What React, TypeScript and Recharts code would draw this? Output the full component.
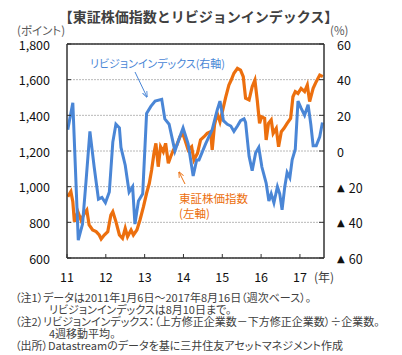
import React from 'react';
import { LineChart, Line, XAxis, YAxis, CartesianGrid, ReferenceLine } from 'recharts';

const yearTicks = [2011, 2012, 2013, 2014, 2015, 2016, 2017];
const yearLabels = ['11', '12', '13', '14', '15', '16', '17'];
const leftTicks = [600, 800, 1000, 1200, 1400, 1600, 1800];
const rightTicks = [-60, -40, -20, 0, 20, 40, 60];

const revisionYears = [
  2011.02, 2011.15, 2011.29, 2011.40, 2011.49, 2011.59, 2011.70, 2011.81, 2011.90, 2011.99,
  2012.09, 2012.18, 2012.26, 2012.35, 2012.39, 2012.50, 2012.60, 2012.69, 2012.75, 2012.84,
  2012.95, 2013.05, 2013.16, 2013.27, 2013.44, 2013.52, 2013.63, 2013.74, 2013.78, 2013.89,
  2013.99, 2014.12, 2014.25, 2014.34, 2014.40, 2014.57, 2014.74, 2014.87, 2014.94, 2015.03,
  2015.13, 2015.22, 2015.30, 2015.39, 2015.47, 2015.56, 2015.60, 2015.69, 2015.77, 2015.86,
  2015.94, 2016.02, 2016.13, 2016.20, 2016.26, 2016.33, 2016.42, 2016.48, 2016.54, 2016.61,
  2016.67, 2016.74, 2016.80, 2016.88, 2016.95, 2017.03, 2017.12, 2017.21, 2017.28, 2017.34,
  2017.42, 2017.51, 2017.58,
];
const revisionValues = [
  12, 27, -50, -41, -17, 11, -9, -27, -26, -29,
  -23, 5, 15, 13, 2, -8, -23, -20, -41, -28,
  -24, 21, 25, 28, 29, 18, 15, 4, 0, 7,
  13, 4, -14, -5, -5, 4, 12, 23, 28, 17,
  15, 14, 11, 14, 17, 18, 16, -3, -11, -1,
  2, -9, -18, -28, -24, -29, -20, -24, -33, -20,
  -12, -15, -5, 1, 28, 24, 20, 26, 15, 3,
  3, 8, 16,
];

const topixYears = [
  2011.02, 2011.10, 2011.15, 2011.19, 2011.28, 2011.36, 2011.45, 2011.51, 2011.57, 2011.66,
  2011.75, 2011.83, 2011.88, 2011.96, 2012.05, 2012.13, 2012.18, 2012.26, 2012.35, 2012.43,
  2012.50, 2012.56, 2012.65, 2012.71, 2012.80, 2012.88, 2012.97, 2013.05, 2013.12, 2013.18,
  2013.24, 2013.29, 2013.35, 2013.41, 2013.48, 2013.54, 2013.61, 2013.67, 2013.74, 2013.83,
  2013.91, 2013.98, 2014.04, 2014.12, 2014.21, 2014.27, 2014.36, 2014.44, 2014.53, 2014.61,
  2014.70, 2014.74, 2014.80, 2014.87, 2014.94, 2015.00, 2015.09, 2015.17, 2015.23, 2015.30,
  2015.39, 2015.47, 2015.54, 2015.60, 2015.69, 2015.77, 2015.84, 2015.90, 2015.96, 2016.01,
  2016.09, 2016.13, 2016.19, 2016.26, 2016.31, 2016.39, 2016.45, 2016.52, 2016.59, 2016.67,
  2016.76, 2016.82, 2016.88, 2016.95, 2017.03, 2017.12, 2017.19, 2017.25, 2017.34, 2017.42,
  2017.51, 2017.59,
];
const topixValues = [
  944, 972, 916, 804, 860, 813, 851, 869, 785, 757,
  748, 729, 707, 729, 748, 841, 860, 804, 729, 710,
  767, 720, 757, 729, 757, 813, 888, 963, 1019, 1094,
  1187, 1243, 1112, 1224, 1196, 1243, 1131, 1168, 1206, 1234,
  1280, 1299, 1262, 1206, 1224, 1150, 1187, 1262, 1280, 1299,
  1308, 1206, 1346, 1411, 1364, 1420, 1504, 1570, 1598, 1636,
  1664, 1654, 1617, 1496, 1486, 1561, 1598, 1486, 1355, 1392,
  1383, 1262, 1355, 1374, 1299, 1327, 1224, 1308, 1327, 1355,
  1383, 1504, 1533, 1523, 1551, 1533, 1570, 1477, 1551, 1589,
  1626, 1617,
];

const notes = [
  { x: 15, text: '（注1）データは2011年1月6日～2017年8月16日（週次ベース）。' },
  { x: 49, text: 'リビジョンインデックスは8月10日まで。' },
  { x: 15, text: '（注2）リビジョンインデックス：（上方修正企業数－下方修正企業数）÷企業数。' },
  { x: 49, text: '4週移動平均。' },
  { x: 15, text: '（出所）Datastreamのデータを基に三井住友アセットマネジメント作成' },
];

const revisionData = revisionYears.map((t, i) => ({ t, v: revisionValues[i] }));
const topixData = topixYears.map((t, i) => ({ t, v: topixValues[i] }));

const BLUE = '#4a86d6';
const ORANGE = '#ec6f0e';
const FRAME = '#333333';
const FONT = '"Noto Sans CJK JP", "Noto Sans", sans-serif';
const palt = { fontFeatureSettings: '"palt"' } as React.CSSProperties;

const XTick = (props: any) => {
  const { x, y, payload } = props;
  const idx = yearTicks.indexOf(payload.value);
  return (
    <g>
      <line x1={x} x2={x} y1={y} y2={y - 4} stroke={FRAME} strokeWidth={1} />
      <text x={x} y={y + 18} textAnchor="middle" dominantBaseline="central" fontSize={12.5} fill="#111" fontFamily={FONT}>
        {yearLabels[idx]}
      </text>
    </g>
  );
};

const LTick = (props: any) => {
  const { x, y, payload } = props;
  return (
    <g>
      <line x1={x + 17} x2={x + 21} y1={y} y2={y} stroke={FRAME} strokeWidth={1} />
      <text x={x} y={y} textAnchor="end" dominantBaseline="central" fontSize={12.5} fill="#111" fontFamily={FONT}>
        {payload.value.toLocaleString('en-US')}
      </text>
    </g>
  );
};

const RTick = (props: any) => {
  const { x, y, payload } = props;
  const v = payload.value as number;
  return (
    <g>
      <line x1={x - 13} x2={x - 18} y1={y} y2={y} stroke={FRAME} strokeWidth={1} />
      <text x={x} y={y} textAnchor="start" dominantBaseline="central" fontSize={12.5} fill="#111" fontFamily={FONT}>
        {v < 0 ? (
          <>
            <tspan fontSize={10} fontFamily='"DejaVu Sans", sans-serif'>▲</tspan>
            <tspan dx={4}>{String(-v)}</tspan>
          </>
        ) : (
          String(v)
        )}
      </text>
    </g>
  );
};

export default function App() {
  return (
    <div style={{ position: 'absolute', left: 0, top: 0, width: 402, height: 355, background: '#fff', fontFamily: FONT }}>
      <LineChart width={402} height={355} margin={{ top: 44, right: 0, left: 0, bottom: 67 }}>
        <CartesianGrid yAxisId="left" vertical={false} stroke="#b8b8b8" strokeDasharray="2 1" />
        <XAxis
          dataKey="t"
          type="number"
          domain={[2011, 2017.62]}
          ticks={yearTicks}
          allowDataOverflow
          height={30}
          tickSize={0}
          tickMargin={0}
          tickLine={false}
          axisLine={{ stroke: FRAME, strokeWidth: 1.5 }}
          tick={<XTick />}
          interval={0}
        />
        <YAxis
          yAxisId="left"
          orientation="left"
          domain={[600, 1800]}
          ticks={leftTicks}
          width={67}
          tickSize={0}
          tickMargin={17}
          tickLine={false}
          axisLine={{ stroke: FRAME, strokeWidth: 1.5 }}
          tick={<LTick />}
          interval={0}
        />
        <YAxis
          yAxisId="right"
          orientation="right"
          domain={[-60, 60]}
          ticks={rightTicks}
          width={78}
          tickSize={0}
          tickMargin={13}
          tickLine={false}
          axisLine={{ stroke: FRAME, strokeWidth: 1.5 }}
          tick={<RTick />}
          interval={0}
        />
        <ReferenceLine yAxisId="left" y={1800} stroke={FRAME} strokeWidth={1.5} />
        <Line
          yAxisId="left"
          data={topixData}
          dataKey="v"
          type="linear"
          stroke={ORANGE}
          strokeWidth={3.2}
          dot={false}
          isAnimationActive={false}
        />
        <Line
          yAxisId="right"
          data={revisionData}
          dataKey="v"
          type="linear"
          stroke={BLUE}
          strokeWidth={3}
          dot={false}
          isAnimationActive={false}
        />
      </LineChart>
      <svg width={402} height={355} style={{ position: 'absolute', left: 0, top: 0, pointerEvents: 'none' }}>
        <defs>
          <marker id="arrBlue" viewBox="0 0 10 10" refX="9" refY="5" markerWidth="6" markerHeight="6" orient="auto">
            <path d="M0,1 L10,5 L0,9" fill="none" stroke={BLUE} strokeWidth="1.5" />
          </marker>
          <marker id="arrOrange" viewBox="0 0 10 10" refX="9" refY="5" markerWidth="6" markerHeight="6" orient="auto">
            <path d="M0,1 L10,5 L0,9" fill="none" stroke={ORANGE} strokeWidth="1.5" />
          </marker>
        </defs>
        <text x={198.5} y={16} textAnchor="middle" dominantBaseline="central" fontSize={14} fontWeight="bold" fill="#404040" fontFamily={FONT}>
          【東証株価指数とリビジョンインデックス】
        </text>
        <text x={17} y={30} dominantBaseline="central" fontSize={11.5} fill="#595959" fontFamily={FONT} style={palt}>
          (ポイント)
        </text>
        <text x={330} y={30} dominantBaseline="central" fontSize={11.5} fill="#595959" fontFamily={FONT}>
          (%)
        </text>
        <text x={314} y={276} dominantBaseline="central" fontSize={12} fill="#404040" fontFamily={FONT} style={palt}>
          (年)
        </text>
        <text x={90} y={63} dominantBaseline="central" fontSize={11} fill={BLUE} fontFamily={FONT} style={palt}>
          リビジョンインデックス(右軸)
        </text>
        <line x1={135} y1={72} x2={147} y2={97} stroke={BLUE} strokeWidth={1} markerEnd="url(#arrBlue)" />
        <text x={179} y={198} dominantBaseline="central" fontSize={11.5} fill={ORANGE} fontFamily={FONT}>
          東証株価指数
        </text>
        <text x={179} y={213} dominantBaseline="central" fontSize={11.5} fill={ORANGE} fontFamily={FONT}>
          (左軸)
        </text>
        <line x1={185} y1={184} x2={179} y2={172} stroke={ORANGE} strokeWidth={1} markerEnd="url(#arrOrange)" />
        {notes.map((n, i) => (
          <text key={i} x={n.x} y={297 + i * 12} dominantBaseline="central" fontSize={11} fill="#404040" fontFamily={FONT} style={palt}>
            {n.text}
          </text>
        ))}
      </svg>
    </div>
  );
}
